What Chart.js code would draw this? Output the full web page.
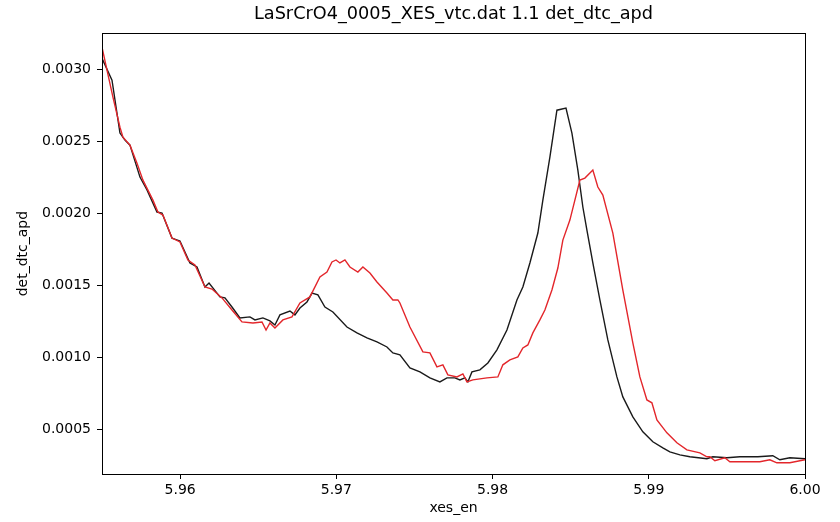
<!DOCTYPE html>
<html>
<head>
<meta charset="utf-8">
<script src="https://cdn.jsdelivr.net/npm/chart.js@4/dist/chart.umd.min.js"></script>
<style>
    html, body { margin: 0; padding: 0; background: #fff; }
    #scan { display: block; }
</style>
</head>
<body>
<canvas id="scan" width="840" height="522"></canvas>
<script>

// first scan (black)
const blackEn = [
    5.9550, 5.95564, 5.95615, 5.95647, 5.95679, 5.95743, 5.95788, 5.95852, 5.95884, 5.95948,
    5.95999, 5.96063, 5.96108, 5.96159, 5.96185, 5.96255, 5.96287, 5.96332, 5.96383, 5.96447,
    5.96479, 5.96530, 5.96575, 5.96607, 5.96639, 5.96703, 5.96735, 5.96767, 5.96812, 5.96844,
    5.96882, 5.96927, 5.96978, 5.97068, 5.97132, 5.97196, 5.97260, 5.97324, 5.97362, 5.97407,
    5.97471, 5.97535, 5.97599, 5.97663, 5.97708, 5.97759, 5.97791, 5.97823, 5.97842, 5.97868,
    5.97919, 5.97970, 5.98028, 5.98092, 5.98156, 5.98194, 5.98239, 5.98290, 5.98322, 5.98367,
    5.98412, 5.98470, 5.98508, 5.98546, 5.98578, 5.98604, 5.98642, 5.98687, 5.98738, 5.98796,
    5.98834, 5.98898, 5.98962, 5.99026, 5.99090, 5.99135, 5.99199, 5.99263, 5.99372, 5.99410,
    5.99500, 5.99583, 5.99647, 5.99698, 5.99794, 5.99839, 5.99903, 6.0000
];
const blackApd = [
    0.003078, 0.002926, 0.002558, 0.002509, 0.002474, 0.002252, 0.002162, 0.002009, 0.002002, 0.001828,
    0.001808, 0.001655, 0.001627, 0.001488, 0.001516, 0.001419, 0.001412, 0.001349, 0.001273, 0.001280,
    0.001259, 0.001273, 0.001252, 0.001224, 0.001294, 0.001321, 0.001294, 0.001342, 0.001384, 0.001446,
    0.001433, 0.001349, 0.001314, 0.001210, 0.001169, 0.001134, 0.001106, 0.001071, 0.001030, 0.001016,
    0.000926, 0.000898, 0.000856, 0.000828, 0.000856, 0.000856, 0.000842, 0.000856, 0.000828, 0.000898,
    0.000912, 0.000960, 0.001051, 0.001189, 0.001398, 0.001488, 0.001655, 0.001863, 0.002092, 0.002391,
    0.002717, 0.002731, 0.002558, 0.002301, 0.002044, 0.001884, 0.001655, 0.001398, 0.001120, 0.000863,
    0.000724, 0.000585, 0.000481, 0.000412, 0.000370, 0.000342, 0.000321, 0.000308, 0.000294, 0.000308,
    0.000301, 0.000308, 0.000308, 0.000308, 0.000315, 0.000287, 0.000301, 0.000294
];

// second scan (red)
const redEn = [
    5.9550, 5.95532, 5.95570, 5.95615, 5.95634, 5.95679, 5.95724, 5.95762, 5.95826, 5.95858,
    5.95890, 5.95948, 5.95999, 5.96050, 5.96095, 5.96159, 5.96204, 5.96268, 5.96332, 5.96396,
    5.96466, 5.96524, 5.96550, 5.96575, 5.96607, 5.96658, 5.96716, 5.96767, 5.96831, 5.96895,
    5.96940, 5.96972, 5.96998, 5.97023, 5.97055, 5.97087, 5.97138, 5.97170, 5.97215, 5.97260,
    5.97324, 5.97362, 5.97394, 5.97407, 5.97471, 5.97554, 5.97599, 5.97644, 5.97682, 5.97714,
    5.97772, 5.97810, 5.97836, 5.97874, 5.97964, 5.98034, 5.98066, 5.98111, 5.98162, 5.98194,
    5.98226, 5.98258, 5.98303, 5.98335, 5.98380, 5.98418, 5.98450, 5.98495, 5.98527, 5.98559,
    5.98591, 5.98642, 5.98674, 5.98706, 5.98770, 5.98834, 5.98898, 5.98943, 5.98988, 5.99020,
    5.99052, 5.99116, 5.99180, 5.99244, 5.99327, 5.99372, 5.99391, 5.99423, 5.99487, 5.99519,
    5.99602, 5.99711, 5.99775, 5.99820, 5.99903, 6.0000
];
const redApd = [
    0.003155, 0.002995, 0.002808, 0.002599, 0.002530, 0.002474, 0.002349, 0.002231, 0.002092, 0.002009,
    0.001988, 0.001828, 0.001801, 0.001676, 0.001641, 0.001488, 0.001474, 0.001412, 0.001328, 0.001245,
    0.001238, 0.001245, 0.001189, 0.001238, 0.001203, 0.001259, 0.001280, 0.001377, 0.001419, 0.001558,
    0.001592, 0.001662, 0.001676, 0.001655, 0.001676, 0.001627, 0.001592, 0.001627, 0.001585, 0.001523,
    0.001446, 0.001398, 0.001398, 0.001377, 0.001210, 0.001037, 0.001030, 0.000933, 0.000947, 0.000877,
    0.000863, 0.000884, 0.000828, 0.000842, 0.000856, 0.000863, 0.000947, 0.000981, 0.001002, 0.001064,
    0.001085, 0.001169, 0.001259, 0.001328, 0.001467, 0.001620, 0.001814, 0.001953, 0.002092, 0.002231,
    0.002245, 0.002301, 0.002183, 0.002127, 0.001863, 0.001467, 0.001099, 0.000863, 0.000703, 0.000683,
    0.000564, 0.000474, 0.000405, 0.000356, 0.000335, 0.000308, 0.000308, 0.000280, 0.000301, 0.000273,
    0.000273, 0.000273, 0.000287, 0.000266, 0.000266, 0.000287
];

const xTicks = [5.96, 5.97, 5.98, 5.99, 6.00];
const yTicks = [0.0005, 0.0010, 0.0015, 0.0020, 0.0025, 0.0030];

const toPoints = (xs, ys) => xs.map((x, i) => ({ x: x, y: ys[i] }));

// box around the plot area, like a matplotlib axes frame
const frame = {
    id: "frame",
    afterDatasetsDraw(chart) {
        const a = chart.chartArea;
        const ctx = chart.ctx;
        ctx.save();
        ctx.strokeStyle = "#000";
        ctx.lineWidth = 1;
        ctx.strokeRect(Math.round(a.left) + 0.5, Math.round(a.top) + 0.5,
            Math.round(a.right - a.left), Math.round(a.bottom - a.top));
        ctx.restore();
    }
};

Chart.defaults.font.family = "'DejaVu Sans', sans-serif";
Chart.defaults.color = "#000";

new Chart(document.getElementById("scan"), {
    type: "line",
    data: {
        datasets: [
            {
                label: "scan 2",
                data: toPoints(redEn, redApd),
                borderColor: "#e3262b",
                borderWidth: 1.4,
                pointRadius: 0,
                order: 0
            },
            {
                label: "scan 1",
                data: toPoints(blackEn, blackApd),
                borderColor: "#1a1a1a",
                borderWidth: 1.4,
                pointRadius: 0,
                order: 1
            }
        ]
    },
    options: {
        responsive: false,
        animation: false,
        events: [],
        layout: {
            padding: { left: 0, right: 35, top: 0, bottom: 0 }
        },
        plugins: {
            legend: { display: false },
            tooltip: { enabled: false },
            title: {
                display: true,
                fullSize: false,   // centre over the axes, not the canvas
                text: "LaSrCrO4_0005_XES_vtc.dat 1.1 det_dtc_apd",
                font: { size: 17.7, weight: "normal" },
                color: "#000",
                padding: { top: 4, bottom: 8 }
            }
        },
        scales: {
            x: {
                type: "linear",
                min: 5.955,
                max: 6.0,
                afterBuildTicks: scale => {
                    scale.ticks = xTicks.map(v => ({ value: v }));
                },
                afterFit: scale => {
                    scale.height = 48;
                },
                ticks: {
                    font: { size: 14 },
                    padding: 3,
                    maxRotation: 0,
                    callback: v => v.toFixed(2)
                },
                grid: {
                    drawOnChartArea: false,
                    drawTicks: true,
                    tickLength: 5,
                    color: "#000"
                },
                border: { display: false },
                title: {
                    display: true,
                    text: "xes_en",
                    font: { size: 14 },
                    padding: { top: 2, bottom: 5 }
                }
            },
            y: {
                type: "linear",
                min: 0.000188,
                max: 0.003252,
                afterBuildTicks: scale => {
                    scale.ticks = yTicks.map(v => ({ value: v }));
                },
                afterFit: scale => {
                    scale.width = 102;
                },
                ticks: {
                    font: { size: 14 },
                    padding: 6,
                    callback: v => v.toFixed(4)
                },
                grid: {
                    drawOnChartArea: false,
                    drawTicks: true,
                    tickLength: 5,
                    color: "#000"
                },
                border: { display: false },
                title: {
                    display: true,
                    text: "det_dtc_apd",
                    font: { size: 14 },
                    padding: { top: 14.5, bottom: 2 }
                }
            }
        }
    },
    plugins: [frame]
});

</script>
</body>
</html>
